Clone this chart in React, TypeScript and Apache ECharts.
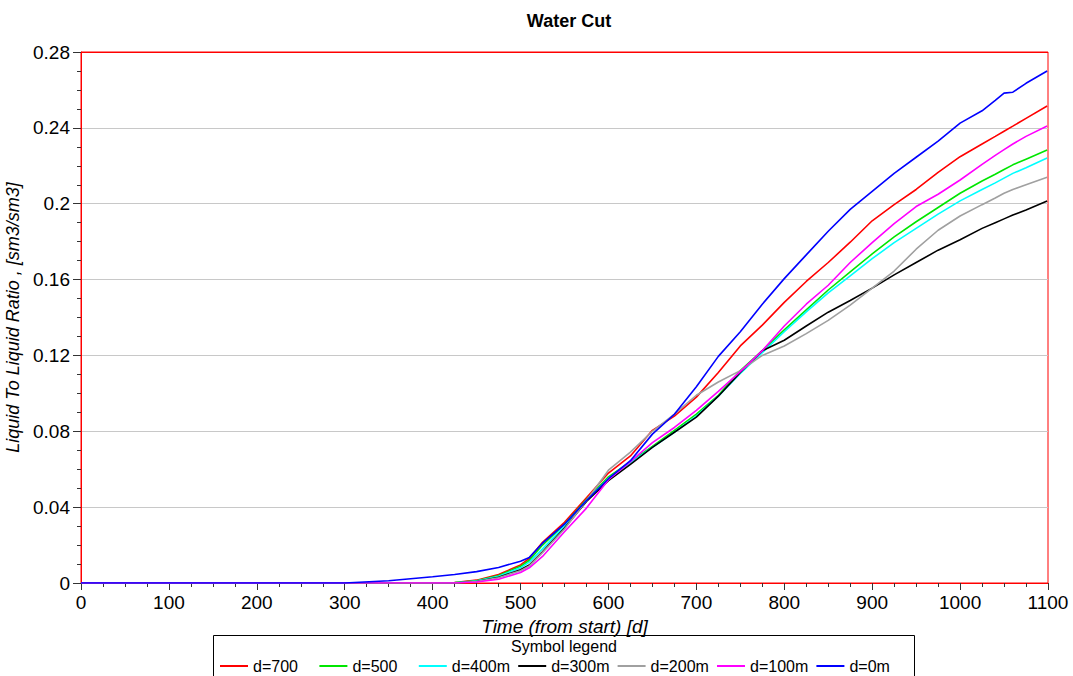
import React, { useEffect, useRef } from "react";
import * as echarts from "echarts";

const TITLE = "Water Cut";
const X_NAME = "Time (from start) [d]";
const Y_NAME = "Liquid To Liquid Ratio , [sm3/sm3]";
const LEGEND_TITLE = "Symbol legend";

const DAYS = [0, 100, 200, 300, 350, 400, 425, 450, 475, 500, 510, 525, 550, 575, 600, 625, 650, 675, 700, 725, 750, 775, 800, 825, 850, 875, 900, 925, 950, 975, 1000, 1025, 1040, 1050, 1060, 1075, 1099];

const SERIES_NAMES = ["d=700", "d=500", "d=400m", "d=300m", "d=200m", "d=100m", "d=0m"];
const SERIES_COLORS = ["#ff0000", "#00e600", "#00ffff", "#000000", "#a0a0a0", "#ff00ff", "#0000ff"];

const D700 = [0, 0, 0, 0, 0, 0, 0.0003, 0.0015, 0.0045, 0.0095, 0.013, 0.0215, 0.032, 0.045, 0.058, 0.067, 0.0805, 0.088, 0.098, 0.111, 0.125, 0.136, 0.148, 0.159, 0.169, 0.1797, 0.191, 0.1995, 0.2075, 0.2165, 0.2248, 0.2315, 0.2355, 0.2382, 0.2409, 0.245, 0.2515];
const D500 = [0, 0, 0, 0, 0, 0, 0.0002, 0.0012, 0.004, 0.0088, 0.012, 0.02, 0.031, 0.044, 0.056, 0.064, 0.072, 0.0805, 0.089, 0.099, 0.112, 0.1225, 0.1335, 0.144, 0.1545, 0.164, 0.1735, 0.1825, 0.1905, 0.198, 0.2055, 0.212, 0.2155, 0.218, 0.2205, 0.2235, 0.2283];
const D400 = [0, 0, 0, 0, 0, 0, 0.0001, 0.001, 0.0035, 0.008, 0.011, 0.018, 0.03, 0.0435, 0.055, 0.0635, 0.0715, 0.0795, 0.088, 0.0985, 0.1105, 0.1215, 0.1325, 0.143, 0.153, 0.162, 0.171, 0.1795, 0.187, 0.1945, 0.2015, 0.2075, 0.211, 0.2135, 0.216, 0.219, 0.2241];
const D300 = [0, 0, 0, 0, 0, 0, 0, 0.0008, 0.003, 0.007, 0.0095, 0.0165, 0.029, 0.043, 0.054, 0.0625, 0.0715, 0.0795, 0.0875, 0.0985, 0.111, 0.1225, 0.128, 0.1355, 0.1428, 0.149, 0.1555, 0.1625, 0.169, 0.1755, 0.181, 0.187, 0.19, 0.192, 0.194, 0.1967, 0.2014];
const D200 = [0, 0, 0, 0, 0, 0, 0, 0.0008, 0.0028, 0.0065, 0.009, 0.016, 0.0285, 0.0435, 0.0595, 0.069, 0.08, 0.089, 0.099, 0.106, 0.112, 0.12, 0.125, 0.1315, 0.1385, 0.1465, 0.1555, 0.1645, 0.176, 0.186, 0.1935, 0.1995, 0.203, 0.2055, 0.2075, 0.21, 0.2139];
const D100 = [0, 0, 0, 0, 0, 0, 0, 0.0005, 0.002, 0.0055, 0.008, 0.014, 0.027, 0.0395, 0.0545, 0.064, 0.074, 0.082, 0.091, 0.101, 0.1115, 0.1225, 0.1355, 0.147, 0.157, 0.169, 0.1795, 0.1895, 0.1985, 0.205, 0.2125, 0.2207, 0.2255, 0.2285, 0.2315, 0.2355, 0.241];
const D0 = [0, 0, 0, 0, 0.0012, 0.0033, 0.0045, 0.006, 0.0082, 0.0115, 0.0135, 0.021, 0.031, 0.0435, 0.055, 0.0645, 0.0785, 0.089, 0.1035, 0.1195, 0.1325, 0.147, 0.1605, 0.173, 0.1855, 0.197, 0.2065, 0.216, 0.2245, 0.233, 0.2425, 0.249, 0.2545, 0.2583, 0.2588, 0.2635, 0.27];

const SERIES_VALUES = [D700, D500, D400, D300, D200, D100, D0];

const X_MIN = 0;
const X_MAX = 1100;
const X_STEP = 100;
const Y_MIN = 0;
const Y_MAX = 0.28;
const Y_STEP = 0.04;

const FONT = "'Liberation Sans', Arial, sans-serif";

export default function App() {
  const ref = useRef<HTMLDivElement>(null);

  useEffect(() => {
    if (!ref.current) return;
    const chart = echarts.init(ref.current, undefined, { renderer: "svg" });

    const series = SERIES_NAMES.map((name, i) => ({
      name,
      type: "line",
      symbol: "none",
      showSymbol: false,
      color: SERIES_COLORS[i],
      lineStyle: { width: 1.6, color: SERIES_COLORS[i] },
      data: DAYS.map((d, j) => [d, SERIES_VALUES[i][j]]),
      z: 2,
    }));

    const legends = SERIES_NAMES.map((name, i) => ({
      data: [{ name, icon: "rect" }],
      left: 220 + i * 99.4,
      top: 658,
      itemWidth: 28,
      itemHeight: 2,
      itemGap: 0,
      padding: 0,
      selectedMode: false,
      textStyle: { fontSize: 16, fontFamily: FONT, color: "#000" },
    }));

    chart.setOption({
      animation: false,
      backgroundColor: "#fff",
      title: {
        text: TITLE,
        left: 564,
        top: 7,
        textAlign: "center",
        textStyle: { fontSize: 18, fontWeight: "bold", fontFamily: FONT, color: "#000" },
      },
      grid: {
        left: 81,
        right: 25,
        top: 52,
        bottom: 93,
        outerBoundsMode: "none",
        containLabel: false,
        show: true,
        borderColor: "#ff0000",
        borderWidth: 1,
        backgroundColor: "transparent",
      },
      legend: legends,
      xAxis: {
        type: "value",
        min: X_MIN,
        max: X_MAX,
        interval: X_STEP,
        name: X_NAME,
        nameLocation: "middle",
        nameGap: 31,
        nameTextStyle: { fontSize: 19, fontStyle: "italic", fontFamily: FONT, color: "#000" },
        axisLine: { show: true, onZero: false, lineStyle: { color: "#ff0000", width: 1 } },
        axisTick: { show: true, length: 7, lineStyle: { color: "#333" } },
        minorTick: { show: true, splitNumber: 4, length: 4, lineStyle: { color: "#333" } },
        splitLine: { show: false },
        axisLabel: {
          fontSize: 19,
          fontFamily: FONT,
          color: "#000",
          margin: 10,
          formatter: (v: number) => String(Math.round(v)),
        },
      },
      yAxis: {
        type: "value",
        min: Y_MIN,
        max: Y_MAX,
        interval: Y_STEP,
        name: Y_NAME,
        nameLocation: "middle",
        nameGap: 49,
        nameTextStyle: { fontSize: 18, fontStyle: "italic", fontFamily: FONT, color: "#000" },
        axisLine: { show: true, lineStyle: { color: "#ff0000", width: 1 } },
        axisTick: { show: true, length: 8, lineStyle: { color: "#333" } },
        minorTick: { show: true, splitNumber: 4, length: 4, lineStyle: { color: "#333" } },
        splitLine: { show: true, showMaxLine: false, showMinLine: false, lineStyle: { color: "#c8c8c8", width: 1 } },
        axisLabel: {
          fontSize: 19,
          fontFamily: FONT,
          color: "#000",
          margin: 11,
          formatter: (v: number) => String(parseFloat(v.toFixed(2))),
        },
      },
      graphic: [
        {
          type: "line",
          shape: { x1: 81, y1: 52.5, x2: 1048, y2: 52.5 },
          style: { stroke: "#ff0000", lineWidth: 1 },
          z: 10,
        },
        {
          type: "rect",
          shape: { x: 213.5, y: 635.5, width: 701, height: 60 },
          style: { fill: "none", stroke: "#000", lineWidth: 1 },
          z: 10,
        },
        {
          type: "text",
          x: 564,
          y: 646,
          style: {
            text: LEGEND_TITLE,
            fontSize: 16,
            fontFamily: FONT,
            fill: "#000",
            textAlign: "center",
            textVerticalAlign: "middle",
          },
          z: 10,
        },
      ],
      series,
    });

    return () => chart.dispose();
  }, []);

  return (
    <div
      ref={ref}
      style={{ position: "absolute", left: 0, top: 0, width: 1073, height: 676 }}
    />
  );
}
